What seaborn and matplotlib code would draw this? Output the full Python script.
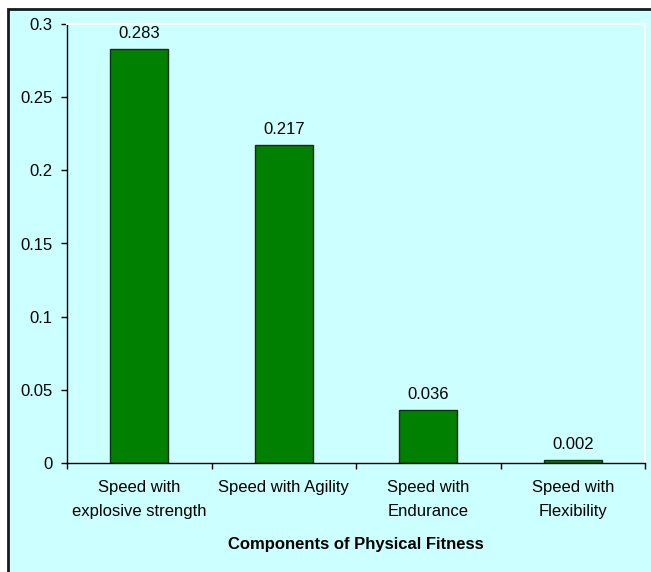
import matplotlib
matplotlib.use("Agg")
import matplotlib.pyplot as plt
import seaborn as sns
import pandas as pd
from matplotlib.patches import Rectangle

categories = ["Speed with\nexplosive strength", "Speed with Agility",
              "Speed with\nEndurance", "Speed with\nFlexibility"]
values = [0.283, 0.217, 0.036, 0.002]
value_labels = ["0.283", "0.217", "0.036", "0.002"]
y_ticks = [0, 0.05, 0.1, 0.15, 0.2, 0.25, 0.3]
y_tick_labels = ["0", "0.05", "0.1", "0.15", "0.2", "0.25", "0.3"]

sns.set_style("white")
plt.rcParams["font.family"] = ["Liberation Sans", "DejaVu Sans"]

bg = "#CCFFFF"
fs = 12
fig = plt.figure(figsize=(6.51, 5.72), dpi=100, facecolor="white")

# chart area background with dark outline
frame = Rectangle((8 / 651, -0.05), 1.1, (572 - 9) / 572 + 0.05,
                  transform=fig.transFigure, facecolor=bg,
                  edgecolor="#1a1a1a", linewidth=2, zorder=-10)
fig.add_artist(frame)

ax = fig.add_axes([67 / 651, (572 - 463) / 572, (645 - 67) / 651, (463 - 24) / 572])
ax.set_zorder(1)
ax.set_facecolor(bg)

df = pd.DataFrame({"component": categories, "value": values})
sns.barplot(data=df, x="component", y="value", color="#008000",
            edgecolor="#1a2a1a", linewidth=1, width=0.4, saturation=1, ax=ax)

for i, (v, lab) in enumerate(zip(values, value_labels)):
    ax.text(i, v + 0.0055, lab, ha="center", va="bottom", fontsize=fs, color="black")

ax.set_xlim(-0.5, 3.5)
ax.set_ylim(0, 0.3)
ax.set_yticks(y_ticks)
ax.set_yticklabels(y_tick_labels, fontsize=fs)
ax.tick_params(axis="y", direction="out", length=4.3, width=1, color="black",
               pad=6, left=True, labelcolor="black")

ax.set_xticks(range(len(categories)))
ax.set_xticklabels(categories, fontsize=fs, linespacing=1.75)
ax.set_xticks([-0.5, 0.5, 1.5, 2.5, 3.5], minor=True)
ax.tick_params(axis="x", which="major", length=0, pad=12, labelcolor="black")
ax.tick_params(axis="x", which="minor", direction="out", length=4.3, width=1,
               color="black", bottom=True)

ax.set_xlabel("Components of Physical Fitness", fontsize=fs, fontweight="bold",
              labelpad=13, color="black")
ax.set_ylabel("")

for s in ["left", "bottom"]:
    ax.spines[s].set_color("black")
    ax.spines[s].set_linewidth(1)
for s in ["top", "right"]:
    ax.spines[s].set_color("white")
    ax.spines[s].set_linewidth(1.5)

fig.savefig("out.png", dpi=100, facecolor="white")
